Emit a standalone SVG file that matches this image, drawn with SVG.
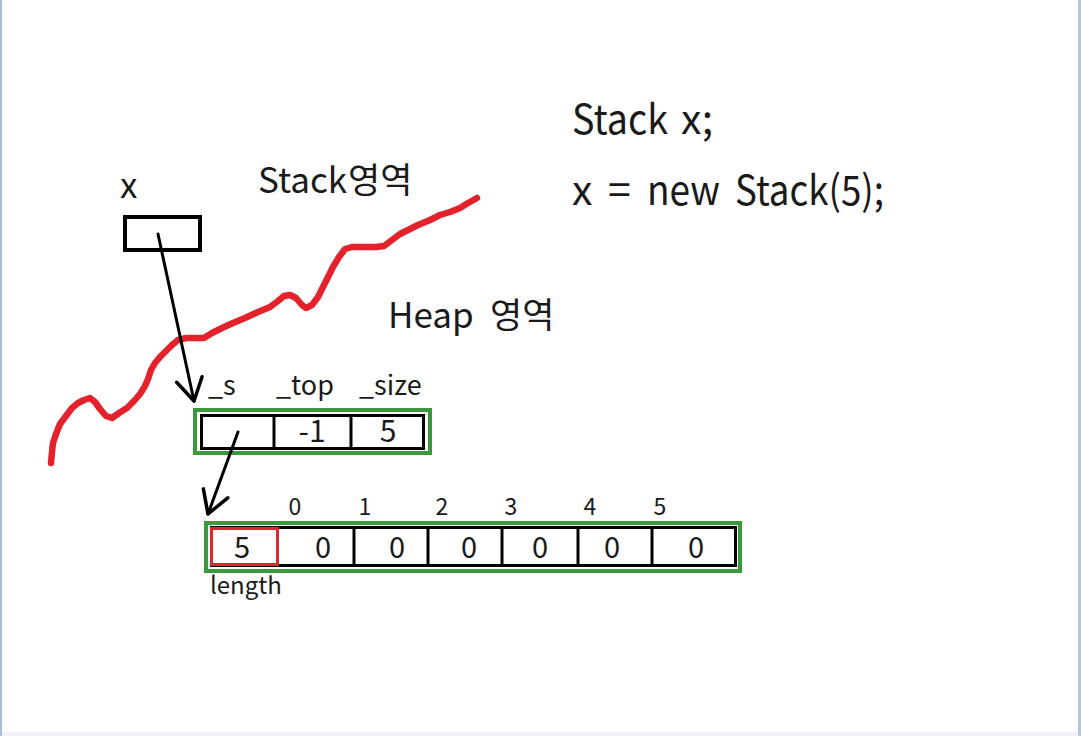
<svg xmlns="http://www.w3.org/2000/svg" width="1081" height="736" viewBox="0 0 1081 736">
  <style>
    text { font-family: "Noto Sans CJK KR", "Noto Sans", "Liberation Sans", sans-serif; fill: #1a1a1a; }
    .big { font-size: 35px; }
    .code { font-size: 41px; }
    .fld { font-size: 27px; }
    .val { font-size: 30px; text-anchor: middle; }
    .aval { font-size: 29px; text-anchor: middle; }
    .idx { font-size: 23px; text-anchor: middle; }
    .small { font-size: 24px; }
    .blk { fill: #ffffff; stroke: #000000; stroke-width: 3; }
    .grn { fill: none; stroke: #3b983b; stroke-width: 4; }
    .div { stroke: #000000; stroke-width: 3; }
    .conn { fill: none; stroke: #000000; stroke-width: 3; stroke-linecap: round; }
  </style>
  <defs>
    <marker id="vhead" markerUnits="userSpaceOnUse" viewBox="-26 -16 30 32" refX="0" refY="0" markerWidth="30" markerHeight="32" orient="auto">
      <path d="M -22 -13 L 0 0 L -22 13" fill="none" stroke="#000000" stroke-width="3.5" stroke-linecap="round" stroke-linejoin="round"/>
    </marker>
  </defs>

  <rect x="0" y="0" width="1081" height="736" fill="#ffffff"/>
  <rect x="0" y="0" width="2" height="736" fill="#a9bdd6"/>
  <rect x="1078" y="0" width="3" height="736" fill="#b7c6da"/>
  <rect x="2" y="732" width="1076" height="4" fill="#f1f1f5"/>

  <g id="boundary">
    <polyline fill="none" stroke="#e3222b" stroke-width="6.5" stroke-linejoin="round" stroke-linecap="round"
      points="51,463 52,452 53,443 56,434 60,424 66,416 72,408 78,403 84,400 90,398 95,402 100,409 106,416 112,418 119,413 127,408 134,401 140,394 145,386 148,379 151,370 155,363 160,357 166,351 172,345 178,340 186,338 196,338 204,338 212,333 222,328 233,323 245,318 258,312 270,307 278,301 284,296 290,295 296,298 302,305 306,308 312,305 318,297 323,287 328,277 333,267 339,257 345,249 352,247 364,247 376,247 384,246 392,240 400,234 408,230 418,225 430,220 440,215 450,212 460,208 468,203 477,198"/>
  </g>

  <g id="var-x">
    <text class="big" x="120" y="198">x</text>
    <rect x="125" y="217" width="75" height="33" fill="#ffffff" stroke="#000000" stroke-width="4"/>
  </g>

  <g id="stack-region">
    <text class="big" x="258" y="193">Stack<tspan x="348">영역</tspan></text>
  </g>

  <g id="heap-region">
    <text class="big" x="388" y="328">Heap<tspan x="490">영역</tspan></text>
  </g>

  <g id="code">
    <text class="code" x="572" y="134" textLength="96" lengthAdjust="spacingAndGlyphs">Stack</text>
    <text class="code" x="681" y="134">x;</text>
    <text class="code" x="572" y="205">x</text>
    <text class="code" x="608" y="205">=</text>
    <text class="code" x="647" y="205" textLength="73" lengthAdjust="spacingAndGlyphs">new</text>
    <text class="code" x="735" y="205" textLength="149" lengthAdjust="spacingAndGlyphs">Stack(5);</text>
  </g>

  <g id="stack-object">
    <text class="fld" x="208" y="395">_s</text>
    <text class="fld" x="276" y="395">_top</text>
    <text class="fld" x="359" y="395">_size</text>
    <rect class="grn" x="195" y="410" width="235" height="43"/>
    <rect class="blk" x="201.5" y="415.5" width="222" height="33"/>
    <line class="div" x1="274" y1="415" x2="274" y2="449"/>
    <line class="div" x1="351" y1="415" x2="351" y2="449"/>
    <text class="val" x="312" y="442">-1</text>
    <text class="val" x="388" y="442">5</text>
  </g>

  <g id="array">
    <text class="idx" x="295" y="515">0</text>
    <text class="idx" x="365" y="515">1</text>
    <text class="idx" x="442" y="515">2</text>
    <text class="idx" x="511" y="515">3</text>
    <text class="idx" x="590" y="515">4</text>
    <text class="idx" x="660" y="515">5</text>
    <rect class="grn" x="206" y="523" width="534" height="48"/>
    <rect class="blk" x="211.5" y="527.5" width="524" height="38"/>
    <line class="div" x1="354" y1="527" x2="354" y2="566"/>
    <line class="div" x1="428" y1="527" x2="428" y2="566"/>
    <line class="div" x1="502" y1="527" x2="502" y2="566"/>
    <line class="div" x1="578" y1="527" x2="578" y2="566"/>
    <line class="div" x1="652" y1="527" x2="652" y2="566"/>
    <rect x="211.5" y="528.5" width="66" height="36" fill="#ffffff" stroke="#e0262c" stroke-width="3"/>
    <text class="aval" x="242" y="558">5</text>
    <text class="aval" x="323" y="558">0</text>
    <text class="aval" x="397" y="558">0</text>
    <text class="aval" x="469" y="558">0</text>
    <text class="aval" x="540" y="558">0</text>
    <text class="aval" x="612" y="558">0</text>
    <text class="aval" x="696" y="558">0</text>
    <text class="small" x="210" y="594">length</text>
  </g>

  <g id="connectors">
    <line class="conn" x1="158" y1="234" x2="194" y2="401" marker-end="url(#vhead)"/>
    <line class="conn" x1="238" y1="432" x2="208" y2="514" marker-end="url(#vhead)"/>
  </g>
</svg>
